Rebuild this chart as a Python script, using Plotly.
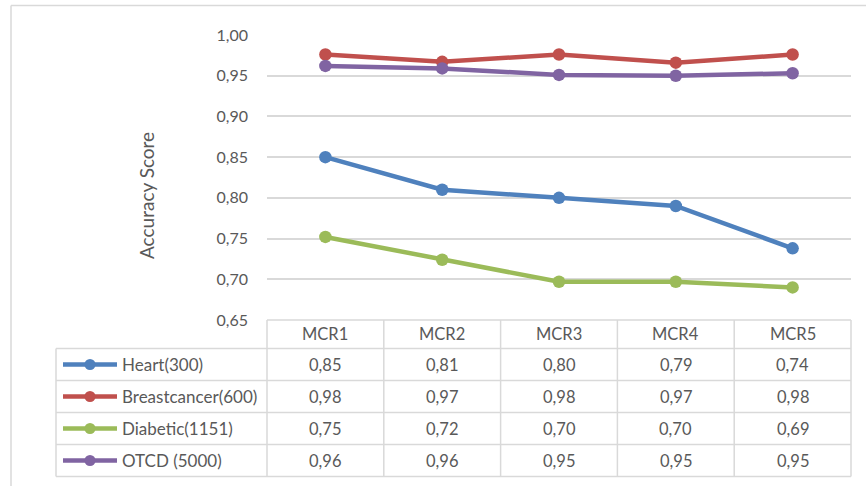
import plotly.graph_objects as go

# ---- data -------------------------------------------------------------
categories = ["MCR1", "MCR2", "MCR3", "MCR4", "MCR5"]
heart = [0.850, 0.810, 0.800, 0.790, 0.738]
breastcancer = [0.976, 0.967, 0.976, 0.966, 0.976]
diabetic = [0.752, 0.724, 0.697, 0.697, 0.690]
otcd = [0.962, 0.959, 0.951, 0.950, 0.953]
series_names = ["Heart(300)", "Breastcancer(600)", "Diabetic(1151)", "OTCD (5000)"]
series_values = [heart, breastcancer, diabetic, otcd]
y_ticks = [0.65, 0.70, 0.75, 0.80, 0.85, 0.90, 0.95, 1.00]

# ---- styling ----------------------------------------------------------
colors = ["#4F81BD", "#C0504D", "#9BBB59", "#8064A2"]
FONT = "Lato, Open Sans, sans-serif"
TXT = "#595959"
GRID = "#D9D9D9"
W, H = 866, 486


def px(x):
    return x / W


def py(y):
    return 1 - y / H


# plot area (pixels)
PL, PR, PT, PB = 267, 851, 35, 320
# data table geometry (pixels)
HEADER_H = 28.5
ROW_H = 32
LEG_L = 56

fig = go.Figure()
for name, vals, col in zip(series_names, series_values, colors):
    fig.add_trace(go.Scatter(
        x=categories, y=vals, name=name, mode="lines+markers",
        line=dict(color=col, width=4.5),
        marker=dict(color=col, size=12.5),
        showlegend=False, hoverinfo="skip",
    ))

shapes = []
annotations = []


def label(x, y, text, size=16.5, xanchor="center", **kw):
    annotations.append(dict(x=x, y=y, xref="paper", yref="paper", text=text,
                            showarrow=False, xanchor=xanchor, yanchor="middle",
                            font=dict(family=FONT, size=size, color=TXT), **kw))


# outer chart frame (top and left edges)
frame = dict(color=GRID, width=1.5)
shapes.append(dict(type="line", xref="paper", yref="paper",
                   x0=px(11), x1=1, y0=py(5.5), y1=py(5.5), line=frame))
shapes.append(dict(type="line", xref="paper", yref="paper",
                   x0=px(11), x1=px(11), y0=0, y1=py(5.5), line=frame))

n = len(categories)
col_w = (PR - PL) / n
header_bottom = PB + HEADER_H
table_bottom = header_bottom + ROW_H * len(series_names)
rule = dict(color=GRID, width=1.5)

# horizontal table rules
shapes.append(dict(type="line", xref="paper", yref="paper",
                   x0=px(PL), x1=px(PR), y0=py(PB), y1=py(PB), line=rule))
for r in range(len(series_names) + 1):
    yy = header_bottom + r * ROW_H
    shapes.append(dict(type="line", xref="paper", yref="paper",
                       x0=px(LEG_L), x1=px(PR), y0=py(yy), y1=py(yy), line=rule))
# vertical table rules
for c in range(n + 1):
    xx = PL + c * col_w
    shapes.append(dict(type="line", xref="paper", yref="paper",
                       x0=px(xx), x1=px(xx), y0=py(PB), y1=py(table_bottom), line=rule))
shapes.append(dict(type="line", xref="paper", yref="paper",
                   x0=px(LEG_L), x1=px(LEG_L), y0=py(header_bottom), y1=py(table_bottom),
                   line=rule))

# header labels
for i, cat in enumerate(categories):
    label(px(PL + (i + 0.5) * col_w), py(PB + HEADER_H / 2), cat)

# rows: legend key + values
for r, (name, vals, col) in enumerate(zip(series_names, series_values, colors)):
    yc = header_bottom + (r + 0.5) * ROW_H
    shapes.append(dict(type="line", xref="paper", yref="paper",
                       x0=px(63), x1=px(117), y0=py(yc), y1=py(yc),
                       line=dict(color=col, width=4.5)))
    shapes.append(dict(type="circle", xref="paper", yref="paper",
                       x0=px(90 - 5.5), x1=px(90 + 5.5), y0=py(yc + 5.5), y1=py(yc - 5.5),
                       fillcolor=col, line=dict(color=col, width=0)))
    label(px(120), py(yc), name, size=17, xanchor="left")
    for i, v in enumerate(vals):
        label(px(PL + (i + 0.5) * col_w), py(yc), f"{v:.2f}".replace(".", ","))

# axis title
label(px(147), py(196), "Accuracy Score", size=19, textangle=-90)

fig.update_layout(
    width=W, height=H,
    margin=dict(l=0, r=0, t=0, b=0, pad=0),
    paper_bgcolor="white", plot_bgcolor="white",
    separators=",.",
    shapes=shapes, annotations=annotations,
    xaxis=dict(domain=[px(PL), px(PR)], showgrid=False, showticklabels=False,
               zeroline=False, showline=False, range=[-0.5, n - 0.5],
               automargin=False),
    yaxis=dict(domain=[py(PB), py(PT)], range=[0.65, 1.0], tickvals=y_ticks,
               tickformat=".2f", showgrid=True, gridcolor=GRID, gridwidth=1.5,
               zeroline=False, showline=False, ticks="", ticklabelstandoff=18,
               automargin=False,
               tickfont=dict(family=FONT, size=16, color=TXT)),
)

fig.write_html("out.html")
